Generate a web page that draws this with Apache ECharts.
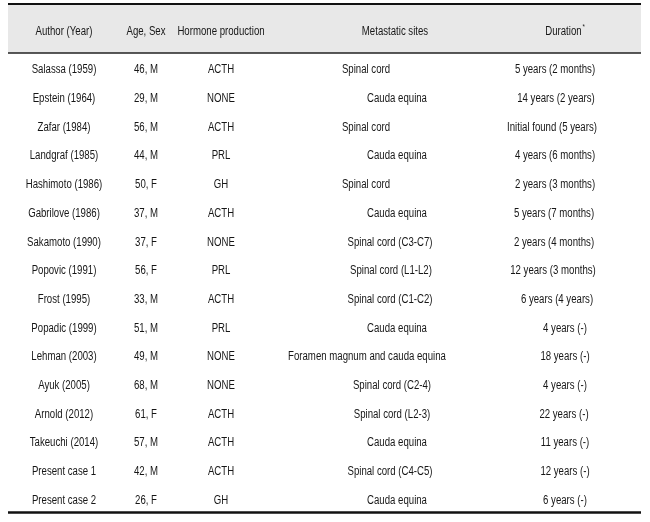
<!DOCTYPE html>
<html>
<head>
<meta charset="utf-8">
<script src="https://cdn.jsdelivr.net/npm/echarts@6/dist/echarts.min.js"></script>
<style>
  html, body { margin: 0; padding: 0; background: #fff; }
  #c_container { width: 650px; height: 522px; }
</style>
</head>
<body>
<div id="c_container"></div>
<script>
var headers = ["Author (Year)", "Age, Sex", "Hormone production", "Metastatic sites", "Duration"];
var authors = ["Salassa (1959)", "Epstein (1964)", "Zafar (1984)", "Landgraf (1985)", "Hashimoto (1986)",
  "Gabrilove (1986)", "Sakamoto (1990)", "Popovic (1991)", "Frost (1995)", "Popadic (1999)",
  "Lehman (2003)", "Ayuk (2005)", "Arnold (2012)", "Takeuchi (2014)", "Present case 1", "Present case 2"];
var ages = ["46, M", "29, M", "56, M", "44, M", "50, F", "37, M", "37, F", "56, F",
  "33, M", "51, M", "49, M", "68, M", "61, F", "57, M", "42, M", "26, F"];
var hormones = ["ACTH", "NONE", "ACTH", "PRL", "GH", "ACTH", "NONE", "PRL",
  "ACTH", "PRL", "NONE", "NONE", "ACTH", "ACTH", "ACTH", "GH"];
var sites = ["Spinal cord", "Cauda equina", "Spinal cord", "Cauda equina", "Spinal cord", "Cauda equina",
  "Spinal cord (C3-C7)", "Spinal cord (L1-L2)", "Spinal cord (C1-C2)", "Cauda equina",
  "Foramen magnum and cauda equina", "Spinal cord (C2-4)", "Spinal cord (L2-3)", "Cauda equina",
  "Spinal cord (C4-C5)", "Cauda equina"];
var durations = ["5 years (2 months)", "14 years (2 years)", "Initial found (5 years)", "4 years (6 months)",
  "2 years (3 months)", "5 years (7 months)", "2 years (4 months)", "12 years (3 months)", "6 years (4 years)",
  "4 years (-)", "18 years (-)", "4 years (-)", "22 years (-)", "11 years (-)", "12 years (-)", "6 years (-)"];

// layout only: column centres (px along the x axis) and per-row nudges of the original typesetting
var colX = [64, 146, 221, 395, 565];
var siteShift = [-29, 2, -29, 2, -29, 2, -5, -4, -5, 2, -28, -3, -3, 2, -5, 2];
var durShift = [-10, -9, -13, -10, -10, -11, -11, -12, -8, 0, 0, 0, -1, 0, 0, 0];

var font = "'Liberation Sans', Arial, sans-serif";
var font_size = 12.5;
var narrow = 0.77; // squeeze to look like Arial Narrow
var txt = "#161616";
var HEAD_Y = -1.35, BAND_Y = -0.59, TOP_Y = -2.32, BOT_Y = 15.45;

var rows = authors.map(function (a, i) { return i; });

function textSeries(texts, c, shifts) {
  return {
    type: "custom",
    silent: true,
    renderItem: function (params, api) {
      var pt = api.coord([api.value(0), api.value(1)]);
      var i = params.dataIndex;
      return {
        type: "text",
        x: pt[0] + (shifts ? shifts[i] : 0),
        y: pt[1],
        scaleX: narrow,
        style: {
          text: texts[i],
          fill: txt,
          font: font_size + "px " + font,
          align: "center",
          verticalAlign: "middle"
        }
      };
    },
    data: texts.map(function (t, i) {
      return [colX[c], rows[i]];
    })
  };
}

var headerSeries = {
  type: "custom",
  silent: true,
  renderItem: function (params, api) {
    var pt = api.coord([api.value(0), api.value(1)]);
    var i = params.dataIndex;
    var h = headers[i];
    return {
      type: "text",
      x: pt[0],
      y: pt[1],
      scaleX: narrow,
      style: {
        text: i === 4 ? h + "{s|*}" : h,
        fill: txt,
        font: font_size + "px " + font,
        align: "center",
        verticalAlign: "middle",
        rich: { s: { fontSize: 8, fontFamily: font, fill: txt, verticalAlign: "top", padding: [0, 0, 10, 1] } }
      }
    };
  },
  data: headers.map(function (h, c) { return [colX[c], HEAD_Y]; })
};

var chartDom = document.getElementById("c_container");
var myChart = echarts.init(chartDom);
myChart.setOption({
  animation: false,
  grid: { left: 8, right: 9, top: 3.5, bottom: 9 },
  xAxis: { type: "value", min: 8, max: 641, show: false },
  yAxis: { type: "value", inverse: true, min: TOP_Y, max: BOT_Y, show: false },
  series: [
    {
      type: "scatter",
      symbolSize: 0,
      silent: true,
      data: [],
      markArea: {
        silent: true,
        itemStyle: { color: "#e8e8e8" },
        data: [[{ yAxis: TOP_Y }, { yAxis: BAND_Y }]]
      },
      markLine: {
        silent: true,
        symbol: "none",
        label: { show: false },
        data: [
          { yAxis: TOP_Y, lineStyle: { color: "#111", width: 2, type: "solid" } },
          { yAxis: BAND_Y, lineStyle: { color: "#222", width: 1.5, type: "solid" } },
          { yAxis: BOT_Y - 0.04, lineStyle: { color: "#111", width: 2.5, type: "solid" } }
        ]
      }
    },
    headerSeries,
    textSeries(authors, 0),
    textSeries(ages, 1),
    textSeries(hormones, 2),
    textSeries(sites, 3, siteShift),
    textSeries(durations, 4, durShift)
  ]
});
</script>
</body>
</html>
